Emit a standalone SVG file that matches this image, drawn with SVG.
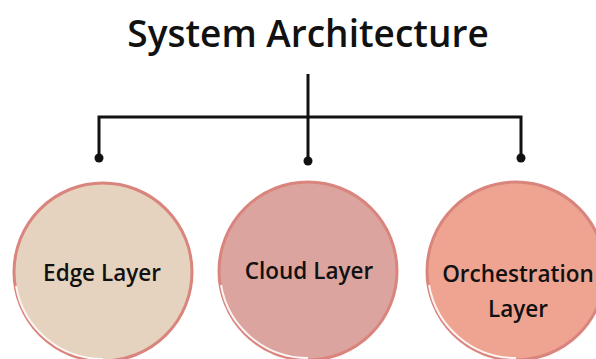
<svg xmlns="http://www.w3.org/2000/svg" width="596" height="359" viewBox="0 0 596 359">
<style>
.title{font-family:"Open Sans","Noto Sans",sans-serif;font-weight:600;font-size:37px;fill:#111;}
.lbl{font-family:"Open Sans","Noto Sans",sans-serif;font-weight:600;font-size:22.5px;fill:#111;text-anchor:middle;}
.conn{stroke:#111;stroke-width:3;fill:none;}
.ring{stroke:#D9857E;stroke-width:3;}
.hl{stroke:#fff;stroke-width:2;fill:none;opacity:0.9;}
</style>
<rect width="596" height="359" fill="#fff"/>
<text class="title" x="308" y="47" text-anchor="middle">System Architecture</text>
<g id="connectors">
<path class="conn" d="M308 74V160M99 158V117H521V158"/>
<circle cx="99" cy="158" r="4.5" fill="#111"/>
<circle cx="308" cy="161" r="4.5" fill="#111"/>
<circle cx="521" cy="158" r="4.5" fill="#111"/>
</g>
<g id="edge">
<circle class="ring" cx="103" cy="272" r="89" fill="#E5D3BF"/>
<path class="hl" d="M16 286A88 88 0 0 0 103 359"/>
<text class="lbl" x="102" y="281">Edge Layer</text>
</g>
<g id="cloud">
<circle class="ring" cx="308" cy="271" r="89" fill="#DCA49E"/>
<path class="hl" d="M221 285A88 88 0 0 0 308 358"/>
<text class="lbl" x="309" y="279">Cloud Layer</text>
</g>
<g id="orchestration">
<circle class="ring" cx="516" cy="271" r="89" fill="#EFA391"/>
<path class="hl" d="M429 285A88 88 0 0 0 516 358"/>
<text class="lbl" x="518" y="282">Orchestration</text>
<text class="lbl" x="518" y="317">Layer</text>
</g>
</svg>
